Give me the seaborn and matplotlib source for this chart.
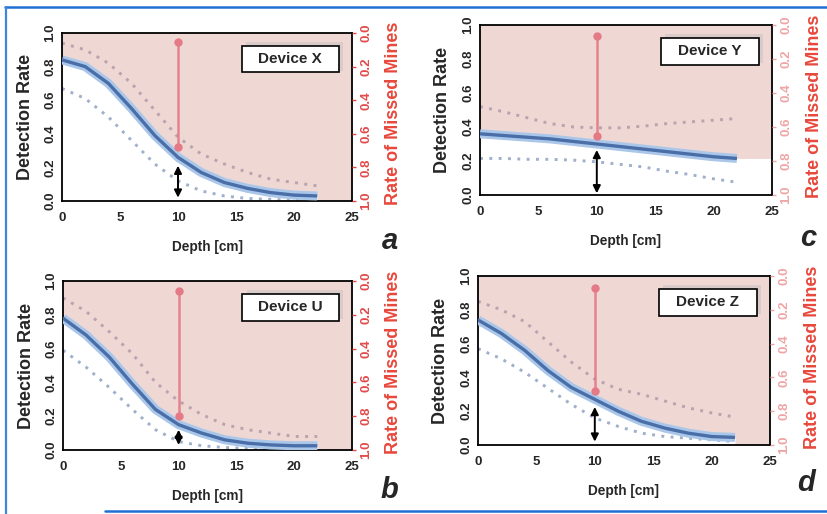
import numpy as np
import pandas as pd
import matplotlib
matplotlib.use("Agg")
import matplotlib.pyplot as plt
import seaborn as sns
from matplotlib.patches import Rectangle
from matplotlib.lines import Line2D

# ---------------- data ----------------
depth = [0, 2, 4, 6, 8, 10, 12, 14, 16, 18, 20, 22]

devices = ["Device X", "Device Y", "Device U", "Device Z"]
panel_letters = ["a", "c", "b", "d"]

curve_x = [0.84, 0.80, 0.70, 0.55, 0.39, 0.26, 0.17, 0.11, 0.075, 0.05, 0.035, 0.03]
upper_x = [0.94, 0.90, 0.82, 0.70, 0.54, 0.38, 0.28, 0.22, 0.17, 0.13, 0.11, 0.09]
lower_x = [0.67, 0.61, 0.50, 0.36, 0.22, 0.12, 0.06, 0.03, 0.015, 0.01, 0.005, 0.005]

curve_y = [0.36, 0.35, 0.34, 0.33, 0.315, 0.30, 0.285, 0.27, 0.255, 0.24, 0.225, 0.215]
upper_y = [0.52, 0.49, 0.455, 0.42, 0.40, 0.395, 0.395, 0.405, 0.42, 0.43, 0.44, 0.45]
lower_y = [0.215, 0.215, 0.21, 0.21, 0.205, 0.195, 0.18, 0.165, 0.14, 0.12, 0.095, 0.075]

curve_u = [0.78, 0.68, 0.55, 0.39, 0.24, 0.15, 0.10, 0.06, 0.04, 0.03, 0.025, 0.025]
upper_u = [0.90, 0.82, 0.70, 0.57, 0.40, 0.29, 0.21, 0.15, 0.12, 0.10, 0.08, 0.08]
lower_u = [0.59, 0.49, 0.37, 0.24, 0.12, 0.05, 0.025, 0.015, 0.01, 0.01, 0.01, 0.01]

curve_z = [0.74, 0.66, 0.56, 0.44, 0.34, 0.27, 0.20, 0.14, 0.10, 0.07, 0.05, 0.045]
upper_z = [0.85, 0.80, 0.73, 0.61, 0.49, 0.39, 0.33, 0.30, 0.26, 0.22, 0.19, 0.165]
lower_z = [0.57, 0.51, 0.43, 0.335, 0.24, 0.16, 0.11, 0.07, 0.05, 0.04, 0.03, 0.02]

# range markers at depth 10 cm
marker_depth = 10
red_range = {"Device X": (0.32, 0.945), "Device Y": (0.35, 0.935),
             "Device U": (0.20, 0.94), "Device Z": (0.32, 0.93)}
black_range = {"Device X": (0.02, 0.21), "Device Y": (0.01, 0.265),
               "Device U": (0.03, 0.12), "Device Z": (0.02, 0.225)}

x_ticks = [0, 5, 10, 15, 20, 25]
y_ticks = [0.0, 0.2, 0.4, 0.6, 0.8, 1.0]

# ---------------- style ----------------
sns.set_theme(style="white")
plt.rcParams["font.family"] = ["Liberation Sans", "DejaVu Sans"]
plt.rcParams["font.weight"] = "bold"

PINK = "#efd7d4"
HALO = "#aac7ea"
BLUE = "#4a6ea8"
UPPER = "#b9a3ae"
LOWER = "#9fb0ca"
RED = "#e34a4a"
RED_FADED = "#efa5a5"
ARROW_RED = "#e37a86"

fig = plt.figure(figsize=(8.27, 5.14), dpi=100)
W, H = 827, 514

boxes = {
    "Device X": (62, 352, 33, 201),
    "Device Y": (480, 772, 25, 195),
    "Device U": (63, 352, 281, 450),
    "Device Z": (478, 770, 276, 445),
}
data = {
    "Device X": (curve_x, upper_x, lower_x),
    "Device Y": (curve_y, upper_y, lower_y),
    "Device U": (curve_u, upper_u, lower_u),
    "Device Z": (curve_z, upper_z, lower_z),
}
letter_pos = {"a": (390, 241), "c": (808, 238), "b": (389, 490), "d": (806, 483)}

for dev, letter in zip(devices, panel_letters):
    l, r, t, b = boxes[dev]
    ax = fig.add_axes([l / W, 1 - b / H, (r - l) / W, (b - t) / H])
    curve, upper, lower = data[dev]
    df = pd.DataFrame({"depth": depth, "curve": curve, "upper": upper, "lower": lower})

    ax.set_facecolor(PINK)
    fx_fill = list(depth)
    fy_fill = list(curve)
    if dev == "Device Y":  # white region continues to the right edge
        fx_fill = fx_fill + [25]
        fy_fill = fy_fill + [curve[-1]]
    ax.fill_between(fx_fill, 0, fy_fill, color="white", zorder=0.5, lw=0)

    sns.lineplot(data=df, x="depth", y="upper", ax=ax, color=UPPER, lw=2.1,
                 linestyle=(0, (1, 2.2)), zorder=2)
    sns.lineplot(data=df, x="depth", y="lower", ax=ax, color=LOWER, lw=2.1,
                 linestyle=(0, (1, 2.2)), zorder=2)
    sns.lineplot(data=df, x="depth", y="curve", ax=ax, color=HALO, lw=6.5,
                 zorder=3, solid_capstyle="butt")
    sns.lineplot(data=df, x="depth", y="curve", ax=ax, color=BLUE, lw=2.4,
                 zorder=4, solid_capstyle="butt")

    lo, hi = red_range[dev]
    ax.plot([marker_depth, marker_depth], [lo, hi], color=ARROW_RED, lw=1.8,
            alpha=0.9, zorder=5)
    ax.plot([marker_depth, marker_depth], [lo, hi], ls="none", marker="o",
            ms=5, color=ARROW_RED, zorder=5)
    blo, bhi = black_range[dev]
    ax.annotate("", xy=(marker_depth, bhi), xytext=(marker_depth, blo),
                arrowprops=dict(arrowstyle="<|-|>", color="black", lw=1.4,
                                mutation_scale=11, shrinkA=0, shrinkB=0),
                zorder=6)

    ax.set_xlim(0, 25)
    ax.set_ylim(0, 1)
    ax.set_xticks(x_ticks)
    ax.set_yticks(y_ticks)
    ax.set_xticklabels([str(v) for v in x_ticks], fontsize=9.5, fontweight="bold")
    ax.set_yticklabels([f"{v:.1f}" for v in y_ticks], fontsize=9.5,
                       fontweight="bold", rotation=90, va="center")
    ax.tick_params(axis="x", length=0, pad=8)
    ax.tick_params(axis="y", length=0, pad=4)
    for s in ax.spines.values():
        s.set_color("black")
        s.set_linewidth(1.3)
        s.set_visible(True)

    ax.set_xlabel("Depth [cm]", fontsize=9.8, fontweight="bold")
    ax.xaxis.set_label_coords(0.5, -0.23)
    ax.set_ylabel("Detection Rate", fontsize=13, fontweight="bold")
    ax.yaxis.set_label_coords(-0.098, 0.5)

    # right axis
    rcol = RED if dev in ("Device X", "Device U") else RED_FADED
    ax2 = ax.twinx()
    ax2.set_ylim(1, 0)
    ax2.set_yticks(y_ticks)
    ax2.set_yticklabels([f"{v:.1f}" for v in y_ticks], fontsize=9.5,
                        fontweight="bold", rotation=90, va="center", color=rcol)
    ax2.tick_params(axis="y", length=3, width=1, color=rcol, pad=3)
    ax2.grid(False)
    for s in ax2.spines.values():
        s.set_visible(False)
    ax2.set_ylabel("Rate of Missed Mines", fontsize=13, fontweight="bold",
                   color="#e8483c", rotation=90)
    ax2.yaxis.set_label_coords(1.115, 0.52)

    # device label box with shadow
    ax.add_patch(Rectangle((0.635, 0.775), 0.335, 0.17, transform=ax.transAxes,
                           facecolor="#c9c3c3", edgecolor="none", alpha=0.6,
                           zorder=6))
    ax.add_patch(Rectangle((0.62, 0.765), 0.335, 0.16, transform=ax.transAxes,
                           facecolor="white", edgecolor="black", lw=1.2,
                           zorder=7))
    ax.text(0.7875, 0.845, dev, transform=ax.transAxes, ha="center", va="center",
            fontsize=11, fontweight="bold", zorder=8)

    fx, fy = letter_pos[letter]
    fig.text(fx / W, 1 - fy / H, letter, fontsize=21, fontweight="bold",
             style="italic", ha="center", va="center")

# scanned blue frame
fig.add_artist(Line2D([5 / W, 1], [1 - 7 / H, 1 - 7 / H], color="#1f6fd2", lw=1.8))
fig.add_artist(Line2D([6 / W, 6 / W], [0, 1 - 7 / H], color="#3d86da", lw=1.6))
fig.add_artist(Line2D([105 / W, 1], [1 - 511 / H, 1 - 511 / H], color="#1f6fd2", lw=1.8))

fig.savefig("out.png", dpi=100)
